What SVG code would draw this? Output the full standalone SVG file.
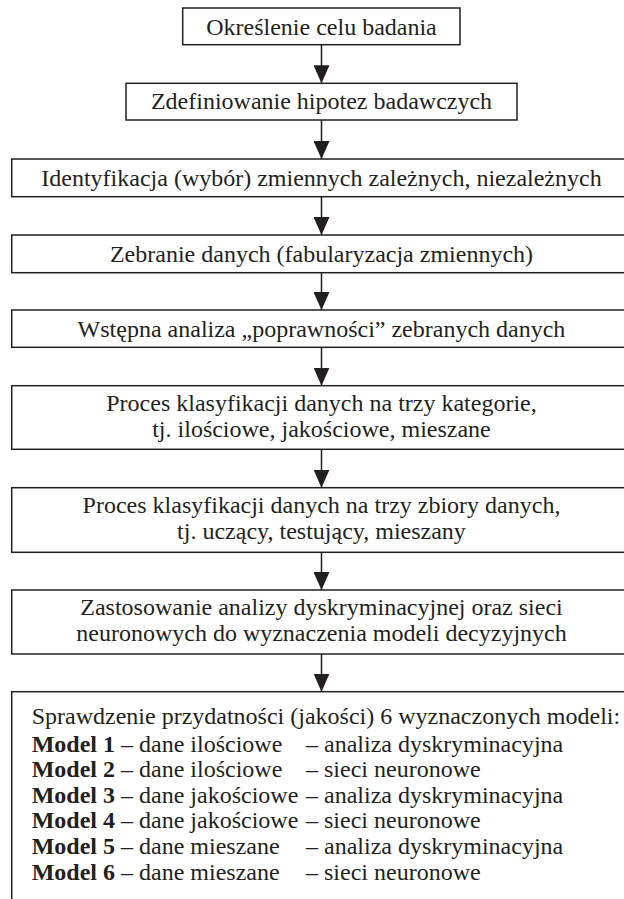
<svg xmlns="http://www.w3.org/2000/svg" width="624" height="899" viewBox="0 0 624 899">
<defs>
<style>
.box{fill:#ffffff;stroke:#231f20;stroke-width:1.5}
.t{font-family:"Liberation Serif","Times New Roman",serif;font-size:24px;fill:#231f20}
.c{text-anchor:middle}
.b{font-weight:bold}
.conn line{stroke:#231f20;stroke-width:1.5}
</style>
<marker id="ah" viewBox="0 0 18 16" refX="18" refY="8" markerWidth="18" markerHeight="16" markerUnits="userSpaceOnUse" orient="auto">
<path d="M0,0 L18,8 L0,16 z" fill="#231f20"/>
</marker>
</defs>
<rect width="624" height="899" fill="#ffffff"/>
<g id="n1"><rect class="box" x="182.7" y="8" width="277.3" height="36.7"/><text class="t c" x="321.5" y="35">Określenie celu badania</text></g>
<g id="n2"><rect class="box" x="126" y="83.3" width="391" height="36.7"/><text class="t c" x="321.5" y="109">Zdefiniowanie hipotez badawczych</text></g>
<g id="n3"><rect class="box" x="11.7" y="159" width="620" height="37.7"/><text class="t c" x="321.5" y="186">Identyfikacja (wybór) zmiennych zależnych, niezależnych</text></g>
<g id="n4"><rect class="box" x="11.7" y="235" width="620" height="37.7"/><text class="t c" x="321.5" y="262">Zebranie danych (fabularyzacja zmiennych)</text></g>
<g id="n5"><rect class="box" x="11.7" y="310" width="620" height="37.3"/><text class="t c" x="321.5" y="337">Wstępna analiza „poprawności” zebranych danych</text></g>
<g id="n6"><rect class="box" x="11.7" y="385.7" width="620" height="63.6"/><text class="t c" x="321.5" y="410.7">Proces klasyfikacji danych na trzy kategorie,</text><text class="t c" x="321.5" y="436.7">tj. ilościowe, jakościowe, mieszane</text></g>
<g id="n7"><rect class="box" x="11.7" y="487.7" width="620" height="64.6"/><text class="t c" x="321.5" y="512.7">Proces klasyfikacji danych na trzy zbiory danych,</text><text class="t c" x="321.5" y="538.5">tj. uczący, testujący, mieszany</text></g>
<g id="n8"><rect class="box" x="11.7" y="590" width="620" height="64"/><text class="t c" x="321.5" y="615">Zastosowanie analizy dyskryminacyjnej oraz sieci</text><text class="t c" x="321.5" y="640.7">neuronowych do wyznaczenia modeli decyzyjnych</text></g>
<g id="n9"><rect class="box" x="11.7" y="691.7" width="620" height="240"/>
<text class="t" x="31.7" y="723.5">Sprawdzenie przydatności (jakości) 6 wyznaczonych modeli:</text>
<text class="t" x="31.7" y="751.5"><tspan class="b">Model 1</tspan> – dane ilościowe</text><text class="t" x="306" y="751.5">– analiza dyskryminacyjna</text>
<text class="t" x="31.7" y="777.1"><tspan class="b">Model 2</tspan> – dane ilościowe</text><text class="t" x="306" y="777.1">– sieci neuronowe</text>
<text class="t" x="31.7" y="802.7"><tspan class="b">Model 3</tspan> – dane jakościowe</text><text class="t" x="306" y="802.7">– analiza dyskryminacyjna</text>
<text class="t" x="31.7" y="828.3"><tspan class="b">Model 4</tspan> – dane jakościowe</text><text class="t" x="306" y="828.3">– sieci neuronowe</text>
<text class="t" x="31.7" y="853.9"><tspan class="b">Model 5</tspan> – dane mieszane</text><text class="t" x="306" y="853.9">– analiza dyskryminacyjna</text>
<text class="t" x="31.7" y="879.5"><tspan class="b">Model 6</tspan> – dane mieszane</text><text class="t" x="306" y="879.5">– sieci neuronowe</text>
</g>
<g id="connectors" class="conn">
<line x1="321.5" y1="44.7" x2="321.5" y2="83.3" marker-end="url(#ah)"/>
<line x1="321.5" y1="120" x2="321.5" y2="159" marker-end="url(#ah)"/>
<line x1="321.5" y1="196.7" x2="321.5" y2="235" marker-end="url(#ah)"/>
<line x1="321.5" y1="272.7" x2="321.5" y2="310" marker-end="url(#ah)"/>
<line x1="321.5" y1="347.3" x2="321.5" y2="385.7" marker-end="url(#ah)"/>
<line x1="321.5" y1="449.3" x2="321.5" y2="487.7" marker-end="url(#ah)"/>
<line x1="321.5" y1="552.3" x2="321.5" y2="590" marker-end="url(#ah)"/>
<line x1="321.5" y1="654" x2="321.5" y2="691.7" marker-end="url(#ah)"/>
</g>
</svg>
